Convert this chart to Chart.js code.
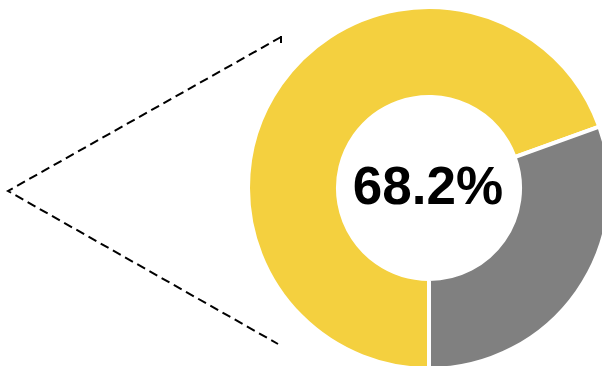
<!DOCTYPE html>
<html>
<head>
<meta charset="utf-8">
<script src="https://cdn.jsdelivr.net/npm/chart.js@4/dist/chart.umd.min.js"></script>
<style>
  html, body { margin: 0; padding: 0; background: #fff; }
  body { width: 602px; height: 366px; overflow: hidden; position: relative; }
  #wrap { position: absolute; left: 246px; top: 5px; width: 366px; height: 366px; }
  #pointer { position: absolute; left: 0; top: 0; }
</style>
</head>
<body>
<svg id="pointer" width="602" height="366">
  <path d="M281 37 L8 191 L278 344" fill="none" stroke="#000" stroke-width="2" stroke-dasharray="9 5"/>
  <line x1="281" y1="36" x2="281" y2="43" stroke="#000" stroke-width="2"/>
</svg>
<div id="wrap"><canvas id="donut" width="366" height="366"></canvas></div>
<script>
const categories = ['Share', 'Rest'];
// slice sizes as drawn in the picture
const shareValues = [69.5, 30.5];
const sliceColors = ['#F4D03F', '#808080'];
const centerLabel = '68.2%';

// big number in the hole
const centerText = {
  id: 'centerText',
  afterDraw: (chart) => {
    const ctx = chart.ctx;
    const arc = chart.getDatasetMeta(0).data[0];
    ctx.save();
    ctx.fillStyle = '#000';
    ctx.font = 'bold 53px "Liberation Sans Narrow", "Arial Narrow", "Liberation Sans", sans-serif';
    ctx.textAlign = 'center';
    ctx.textBaseline = 'middle';
    ctx.fillText(centerLabel, arc.x - 1, arc.y + 1);
    ctx.restore();
  }
};

new Chart(document.getElementById('donut'), {
  type: 'doughnut',
  data: {
    labels: categories,
    datasets: [{
      data: shareValues,
      backgroundColor: sliceColors,
      borderColor: '#fff',
      borderWidth: 4
    }]
  },
  options: {
    responsive: false,
    animation: false,
    rotation: 180,
    cutout: '50.3%',
    layout: { padding: 0 },
    plugins: {
      legend: { display: false },
      tooltip: { enabled: false }
    }
  },
  plugins: [centerText]
});
</script>
</body>
</html>
